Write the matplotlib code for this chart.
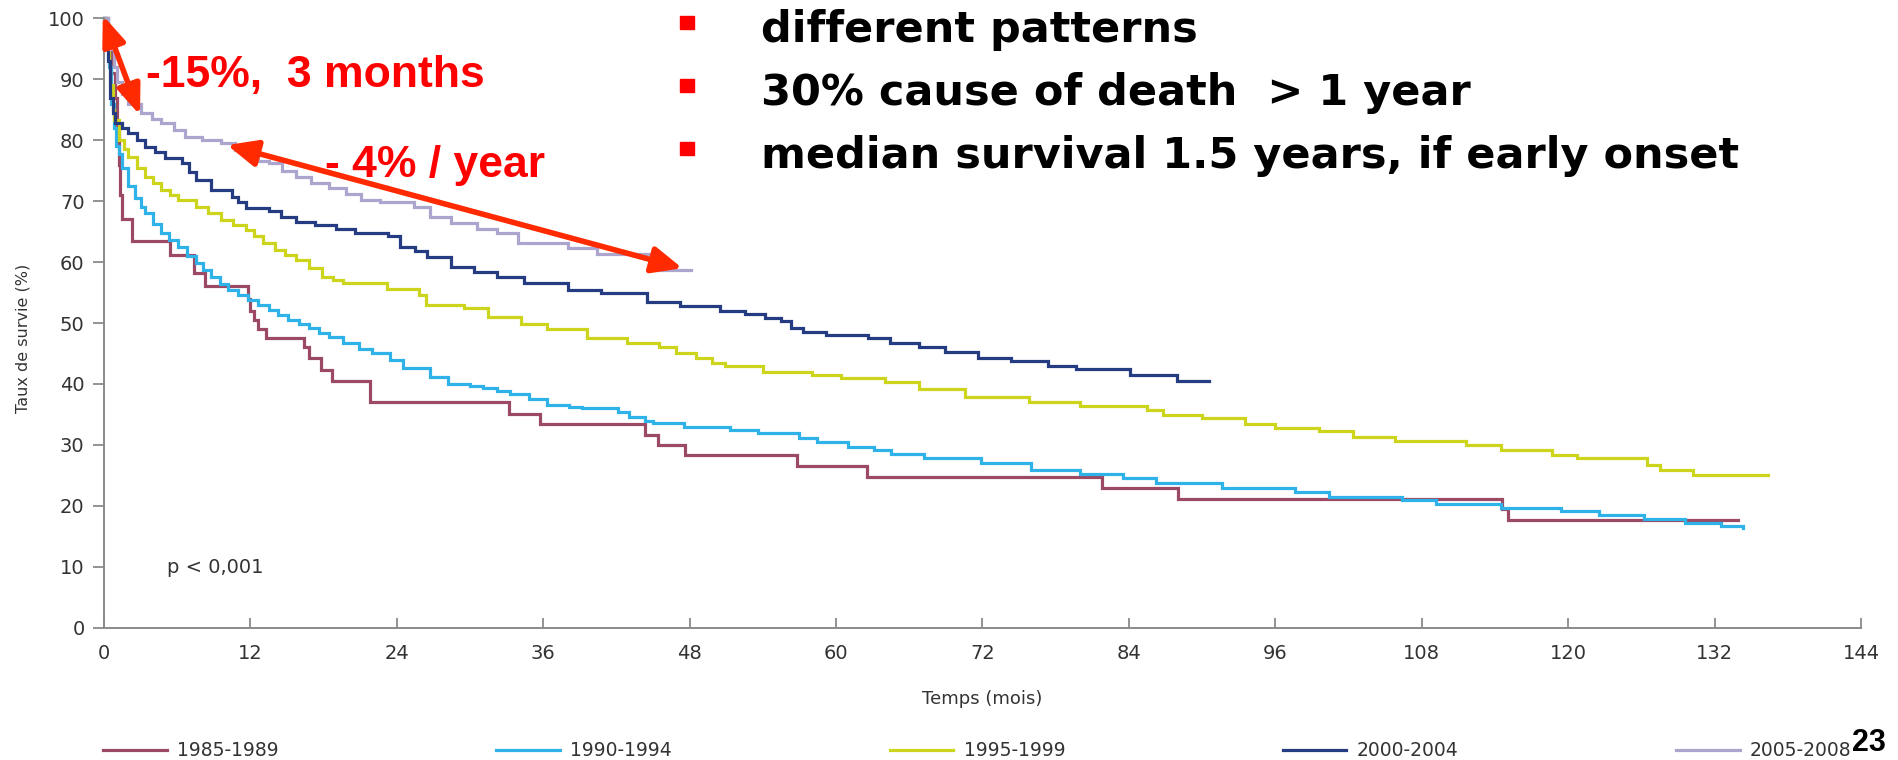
import numpy as np
import matplotlib
matplotlib.use("Agg")
import matplotlib.pyplot as plt
from matplotlib.patches import Rectangle

# Kaplan-Meier curves (months, survival %)
t_8589 = [0, 0.3, 0.6, 0.9, 1.1, 1.2, 1.35, 1.5, 2.3, 5.4, 7.4, 8.3, 11.8, 12.0, 12.3, 12.6,
          13.3, 16.4, 16.8, 17.8, 18.7, 21.8, 33.2, 35.7, 44.3, 45.4, 47.6, 56.8, 62.5,
          81.8, 88.0, 114.6, 115.1, 133.9]
s_8589 = [100, 95, 91, 87, 82, 76, 71, 67, 63.5, 61.2, 58.2, 56.1, 54, 52, 50.5, 49,
          47.6, 46, 44.2, 42.3, 40.5, 37, 35, 33.4, 31.6, 29.9, 28.3, 26.6, 24.8,
          23, 21.2, 19.4, 17.6, 17.6]

t_9094 = [0, 0.2, 0.4, 0.6, 0.8, 1.0, 1.2, 1.5, 2, 2.5, 3, 3.4, 4, 4.7, 5.3, 6.1, 6.8, 7.5,
          8.1, 8.8, 9.5, 10.2, 11, 11.8, 12.6, 13.5, 14.3, 15.1, 16, 16.8, 17.6, 18.4,
          19.6, 20.9, 22, 23.4, 24.5, 26.7, 28.2, 30, 31.1, 32.2, 33.3, 34.8, 36.3, 38.1,
          39.2, 42.1, 43, 44.3, 45, 47.5, 51.3, 53.6, 57, 58.4, 61, 63.1, 64.5, 67.2,
          71.9, 76, 80, 83.5, 86.2, 91.6, 97.6, 100.4, 106.4, 109.2, 114.5, 119.4,
          122.5, 126.2, 129.6, 132.5, 134.3]
s_9094 = [100, 96, 92, 86, 82, 79, 77.8, 75.5, 72.4, 70.5, 69, 68, 66.3, 64.7, 63.6, 62.5,
          61, 59.8, 58.7, 57.6, 56.4, 55.4, 54.6, 53.8, 52.9, 52.1, 51.3, 50.5, 49.8,
          49.1, 48.3, 47.7, 46.8, 45.8, 45, 44, 42.6, 41.2, 40, 39.6, 39.3, 38.8, 38.4,
          37.5, 36.6, 36.2, 36, 35.4, 34.6, 34, 33.6, 33, 32.4, 31.9, 31.1, 30.5, 29.7,
          29.2, 28.5, 27.8, 27, 25.9, 25.3, 24.5, 23.8, 23, 22.2, 21.5, 21, 20.3, 19.7,
          19.2, 18.5, 17.9, 17.2, 16.7, 16.4]

t_9599 = [0, 0.2, 0.4, 0.5, 0.7, 0.8, 1.2, 1.6, 2, 2.7, 3.4, 4, 4.7, 5.4, 6.1, 7.5, 8.5,
          9.6, 10.6, 11.6, 12.3, 13, 14, 14.8, 15.7, 16.8, 17.9, 18.8, 19.6, 23.2, 25.8,
          26.4, 29.5, 31.5, 34.2, 36.3, 39.6, 42.9, 45.5, 46.9, 48.5, 49.8, 50.9, 54, 58,
          60.4, 64, 66.8, 70.6, 75.8, 80, 85.5, 86.8, 90, 93.5, 96, 99.6, 102.4, 105.8,
          111.6, 114.5, 118.7, 120.7, 126.5, 127.5, 130.2, 136.4]
s_9599 = [100, 97, 93, 89, 85, 83.3, 80, 78.5, 77.3, 75.5, 74, 73, 71.8, 71, 70.2, 69.1,
          68, 66.9, 66, 65.3, 64.2, 63.1, 62, 61.2, 60.3, 59, 57.6, 57, 56.5, 55.5, 54.6,
          53, 52.5, 51, 49.8, 49, 47.5, 46.8, 46, 45, 44.2, 43.4, 42.9, 42, 41.5, 40.9,
          40.4, 39.1, 37.9, 37.1, 36.3, 35.7, 34.9, 34.4, 33.5, 32.7, 32.2, 31.3, 30.7,
          30, 29.2, 28.3, 27.8, 26.7, 25.9, 25.1, 25.1]

t_0004 = [0, 0.2, 0.35, 0.5, 0.7, 0.9, 1.5, 2, 2.7, 3.4, 4.2, 5, 6.4, 7, 7.5, 8.8, 10.5,
          11, 11.6, 13.5, 14.5, 15.7, 17.3, 19, 20.6, 23.3, 24.3, 25.5, 26.5, 28.4, 30.3,
          32.2, 34.4, 38, 40.7, 44.5, 47.2, 50.5, 52.5, 54.2, 55.5, 56.3, 57.3, 59.2,
          62.6, 64.4, 66.8, 68.9, 71.6, 74.3, 77.4, 79.7, 84.1, 87.9, 90.6]
s_0004 = [100, 97, 93, 87, 84.4, 82.8, 82, 81.1, 80, 78.9, 78, 77, 76.2, 74.8, 73.5, 71.8,
          70.7, 69.8, 68.8, 68.3, 67.4, 66.6, 66, 65.5, 64.7, 64.2, 62.5, 61.8, 60.9,
          59.2, 58.4, 57.6, 56.5, 55.4, 55, 53.5, 52.8, 52, 51.4, 50.8, 50.3, 49.1, 48.6,
          48, 47.5, 46.8, 46.1, 45.3, 44.2, 43.7, 42.9, 42.4, 41.5, 40.5, 40.5]

t_0508 = [0, 0.3, 0.5, 0.8, 1.1, 1.5, 2, 3, 3.9, 4.7, 5.7, 6.6, 8, 9.6, 10.7, 11.8, 12.6,
          13.5, 14.6, 15.7, 17, 18.4, 19.8, 21.1, 22.6, 25.4, 26.7, 28.4, 30.6, 32.2,
          33.9, 38, 40.4, 45.3, 48.1]
s_0508 = [100, 97, 95, 92, 89.5, 87.5, 86, 84.5, 83.5, 82.8, 81.6, 80.6, 80, 79.5, 78.4,
          77.3, 76.6, 76.2, 75, 74, 73, 72.1, 71.2, 70.2, 69.9, 69.1, 67.4, 66.4, 65.5,
          64.7, 63.1, 62.3, 61.4, 58.7, 58.7]

periods = ["1985-1989", "1990-1994", "1995-1999", "2000-2004", "2005-2008"]
colours = ["#9c4a64", "#2eb2e8", "#cdd41c", "#263c82", "#aca6cf"]
bullets = ["different patterns", "30% cause of death  > 1 year",
           "median survival 1.5 years, if early onset"]

plt.rcParams['font.family'] = ['DejaVu Sans']
txt = '#333333'
W, H = 1899, 760

fig = plt.figure(figsize=(W / 100, H / 100), dpi=100)
ax = fig.add_axes([104 / W, 1 - 627.7 / H, 1757 / W, 609.4 / H])

series = [(t_8589, s_8589), (t_9094, s_9094), (t_9599, s_9599),
          (t_0004, s_0004), (t_0508, s_0508)]
for (t, s), lab, col in zip(series, periods, colours):
    ax.plot(t, s, drawstyle='steps-post', color=col, lw=2.3, label=lab,
            clip_on=False, solid_joinstyle='miter')

ax.set_xlim(0, 144)
ax.set_ylim(0, 100)
ax.set_xticks(np.arange(0, 145, 12))
ax.set_yticks(np.arange(0, 101, 10))
for sp in ['top', 'right']:
    ax.spines[sp].set_visible(False)
for sp in ['left', 'bottom']:
    ax.spines[sp].set_color('#8a8a8a')
    ax.spines[sp].set_linewidth(1.4)
ax.tick_params(axis='x', direction='in', length=7, width=1.3, color='#8a8a8a',
               pad=12, labelsize=14, labelcolor=txt)
ax.tick_params(axis='y', direction='out', length=8, width=1.3, color='#8a8a8a',
               pad=6, labelsize=14, labelcolor=txt)

ax.set_xlabel('Temps (mois)', fontsize=13, color=txt)
ax.xaxis.set_label_coords(0.5, -0.102)
ax.set_ylabel('Taux de survie (%)', fontsize=11.5, color=txt)
ax.yaxis.set_label_coords(-0.042, 0.474)

ax.text(5.2, 9.0, 'p < 0,001', fontsize=14, color=txt, va='baseline')

ax.legend(loc='center left', bbox_to_anchor=(103 / W, 1 - 751 / H),
          bbox_transform=fig.transFigure, ncol=5, frameon=False, fontsize=13.5,
          handlelength=3.4, handletextpad=0.55, columnspacing=11.6,
          borderpad=0, borderaxespad=0, labelcolor=txt)

# red annotations
red = '#ff0000'
arr = '#ff2a00'
ax.annotate('', xy=(-0.1, 100.5), xytext=(2.95, 84.1), annotation_clip=False,
            arrowprops=dict(arrowstyle='<|-|>,head_length=0.9,head_width=0.35',
                            mutation_scale=20, lw=4, color=arr,
                            shrinkA=0, shrinkB=0))
ax.annotate('', xy=(10.1, 79.2), xytext=(47.4, 59.0), annotation_clip=False,
            arrowprops=dict(arrowstyle='<|-|>,head_length=0.9,head_width=0.4',
                            mutation_scale=20, lw=4, color=arr,
                            shrinkA=0, shrinkB=0))
fig.text(146 / W, 1 - 87 / H, '-15%,  3 months', fontsize=32, fontweight='bold',
         family='Liberation Sans', color=red, va='baseline')
fig.text(325 / W, 1 - 177 / H, '- 4% / year', fontsize=32, fontweight='bold',
         family='Liberation Sans', color=red, va='baseline')

# bullet list
for i, b in enumerate(bullets):
    base = 42 + 63 * i
    fig.patches.append(Rectangle((680 / W, 1 - (base - 13) / H), 14 / W, 13 / H,
                                 transform=fig.transFigure, color=red))
    fig.text(761 / W, 1 - base / H, b, fontsize=31, fontweight='bold',
             color='black', va='baseline')

fig.text(1852 / W, 2 / H, '23', fontsize=22, fontweight='bold',
         family='Liberation Sans', color='black', va='bottom')

fig.savefig('out.png', dpi=100)
